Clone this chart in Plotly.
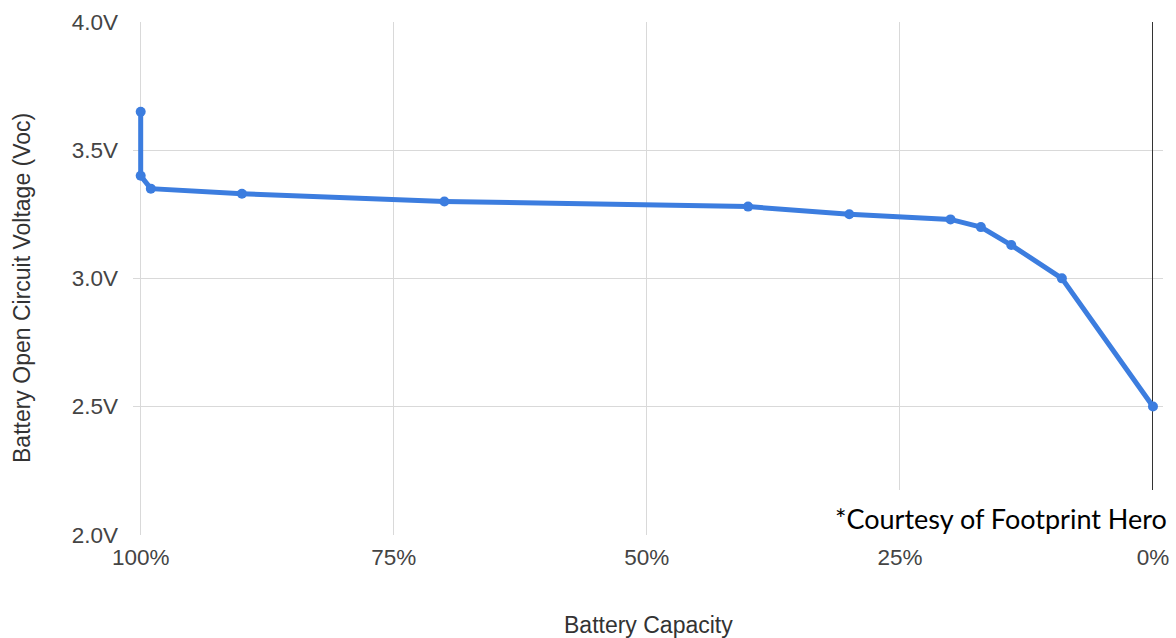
import plotly.graph_objects as go

capacity_pct = [100, 100, 99, 90, 70, 40, 30, 20, 17, 14, 9, 0]
voltage_v = [3.65, 3.40, 3.35, 3.33, 3.30, 3.28, 3.25, 3.23, 3.20, 3.13, 3.00, 2.50]

x_tick_vals = [100, 75, 50, 25, 0]
x_tick_text = ["100%", "75%", "50%", "25%", "0%"]
y_tick_vals = [2.0, 2.5, 3.0, 3.5, 4.0]
y_tick_text = ["2.0V", "2.5V", "3.0V", "3.5V", "4.0V"]

x_title = "Battery Capacity"
y_title = "Battery Open Circuit Voltage (Voc)"
credit = "*Courtesy of Footprint Hero"

W, H = 1176, 638
L, R, T, B = 133, 13, 22, 103
PH = H - T - B
PW = W - L - R

def px_x(p):
    return (p - L) / PW

def px_y(p):
    return (H - B - p) / PH

fig = go.Figure()
fig.add_trace(go.Scatter(
    x=capacity_pct, y=voltage_v, mode="lines+markers",
    line=dict(color="#3c7ddf", width=5),
    marker=dict(color="#3c7ddf", size=10),
    showlegend=False, hoverinfo="skip",
))

font = "Liberation Sans, Arial, sans-serif"
fig.update_layout(
    width=W, height=H,
    margin=dict(l=L, r=R, t=T, b=B, autoexpand=False),
    paper_bgcolor="white", plot_bgcolor="white",
    font=dict(family=font, size=22, color="#444444"),
    xaxis=dict(
        range=[100.76, -0.99], tickvals=x_tick_vals, ticktext=x_tick_text,
        showgrid=True, gridcolor="#d9d9d9", gridwidth=1,
        zeroline=True, zerolinecolor="#333333", zerolinewidth=1,
        showline=False, ticks="", ticklabelstandoff=6,
        tickfont=dict(size=22.5, color="#444444"),
    ),
    yaxis=dict(
        range=[1.999, 4.0], tickvals=y_tick_vals, ticktext=y_tick_text,
        showgrid=True, gridcolor="#d9d9d9", gridwidth=1,
        zeroline=False, showline=False, ticks="", ticklabelstandoff=14,
        tickfont=dict(size=22.5, color="#444444"),
    ),
    shapes=[
        dict(type="rect", xref="paper", yref="paper", layer="above",
             x0=px_x(813), x1=px_x(1180), y0=px_y(542), y1=px_y(490),
             fillcolor="white", line=dict(width=0)),
    ],
    annotations=[
        dict(text=x_title, xref="paper", yref="paper", x=px_x(648), y=px_y(625),
             xanchor="center", yanchor="middle", showarrow=False,
             font=dict(size=23, color="#333333", family=font)),
        dict(text=y_title, xref="paper", yref="paper", x=px_x(22), y=px_y(288),
             xanchor="center", yanchor="middle", showarrow=False, textangle=-90,
             font=dict(size=23, color="#333333", family=font)),
        dict(text=credit, xref="paper", yref="paper", x=px_x(1169), y=px_y(518),
             xanchor="right", yanchor="middle", showarrow=False,
             font=dict(size=27, color="#000000", family="Lato, sans-serif")),
    ],
)

fig.write_html("out.html", config={"displayModeBar": False},
               post_script="document.body.style.margin='0';")
